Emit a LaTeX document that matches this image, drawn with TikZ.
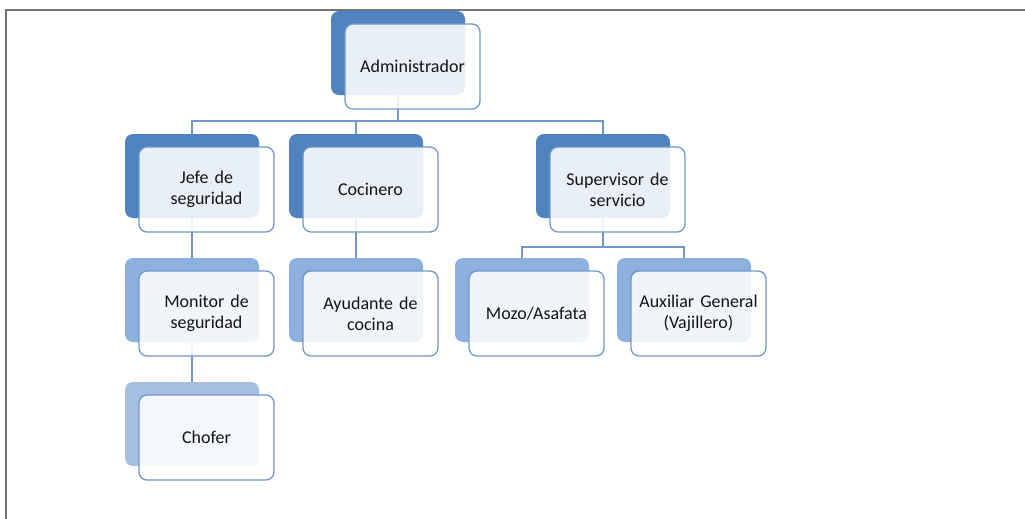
\documentclass[tikz,border=0pt]{standalone}
\usepackage{fontspec}
\setmainfont{Carlito}
\usetikzlibrary{calc,positioning}
\pgfdeclarelayer{background}
\pgfsetlayers{background,main}
\definecolor{lvlA}{RGB}{79,131,192}
\definecolor{lvlB}{RGB}{141,177,222}
\definecolor{lvlC}{RGB}{166,191,225}
\definecolor{edgeblue}{RGB}{114,151,201}
\definecolor{txt}{RGB}{20,20,20}
\tikzset{
  backbox/.style={draw=none, rounded corners=8pt, minimum width=134pt, minimum height=84pt, inner sep=0pt},
  frontbox/.style={draw=edgeblue, line width=1.3pt, fill=white, fill opacity=0.88, text opacity=1,
    rounded corners=8pt, minimum width=135pt, minimum height=85pt, inner sep=0pt,
    align=center, text width=125pt, text=txt, font=\fontsize{18}{21}\selectfont},
  conn/.style={draw=edgeblue, line width=1.4pt},
  frameline/.style={draw=gray!90!black, line width=1.8pt}
}
\begin{document}
\begin{tikzpicture}[x=1pt,y=-1pt]
\useasboundingbox (0,0) rectangle (1025,519);
\draw[frameline] (6,522) -- (6,10) -- (1028,10);

% back boxes
\node[backbox, fill=lvlA] (adminB) at (398,53) {};
\node[backbox, fill=lvlA] (jefeB) at (192,176) {};
\node[backbox, fill=lvlA] (cociB) at (356,176) {};
\node[backbox, fill=lvlA] (supB) at (603,176) {};
\node[backbox, fill=lvlB] (moniB) at (192,300) {};
\node[backbox, fill=lvlB] (ayudB) at (356,300) {};
\node[backbox, fill=lvlB] (mozoB) at (522,300) {};
\node[backbox, fill=lvlB] (auxB) at (684,300) {};
\node[backbox, fill=lvlC] (chofB) at (192,424) {};

% connectors
\begin{pgfonlayer}{background}
\coordinate (busA) at (398,121);
\coordinate (busB) at (603,247);
\draw[conn] (adminB.south) -- (busA);
\draw[conn] (jefeB.north) |- (busA);
\draw[conn] (cociB.north) |- (busA);
\draw[conn] (supB.north) |- (busA);
\draw[conn] (jefeB.south) -- (moniB.north);
\draw[conn] (moniB.south) -- (chofB.north);
\draw[conn] (cociB.south) -- (ayudB.north);
\draw[conn] (supB.south) -- (busB);
\draw[conn] (mozoB.north) |- (busB);
\draw[conn] (auxB.north) |- (busB);
\end{pgfonlayer}

% front boxes
\node[frontbox] (adminF) at ($(adminB)+(14.5,13.5)$) {Administrador};
\node[frontbox] (jefeF) at ($(jefeB)+(14.5,13.5)$) {Jefe de\\seguridad};
\node[frontbox] (cociF) at ($(cociB)+(14.5,13.5)$) {Cocinero};
\node[frontbox] (supF) at ($(supB)+(14.5,13.5)$) {Supervisor de\\servicio};
\node[frontbox] (moniF) at ($(moniB)+(14.5,13.5)$) {Monitor de\\seguridad};
\node[frontbox] (ayudF) at ($(ayudB)+(14.5,13.5)$) {Ayudante de\\cocina};
\node[frontbox] (mozoF) at ($(mozoB)+(14.5,13.5)$) {Mozo/Asafata};
\node[frontbox] (auxF) at ($(auxB)+(14.5,13.5)$) {Auxiliar General\\(Vajillero)};
\node[frontbox] (chofF) at ($(chofB)+(14.5,13.5)$) {Chofer};
\end{tikzpicture}
\end{document}
